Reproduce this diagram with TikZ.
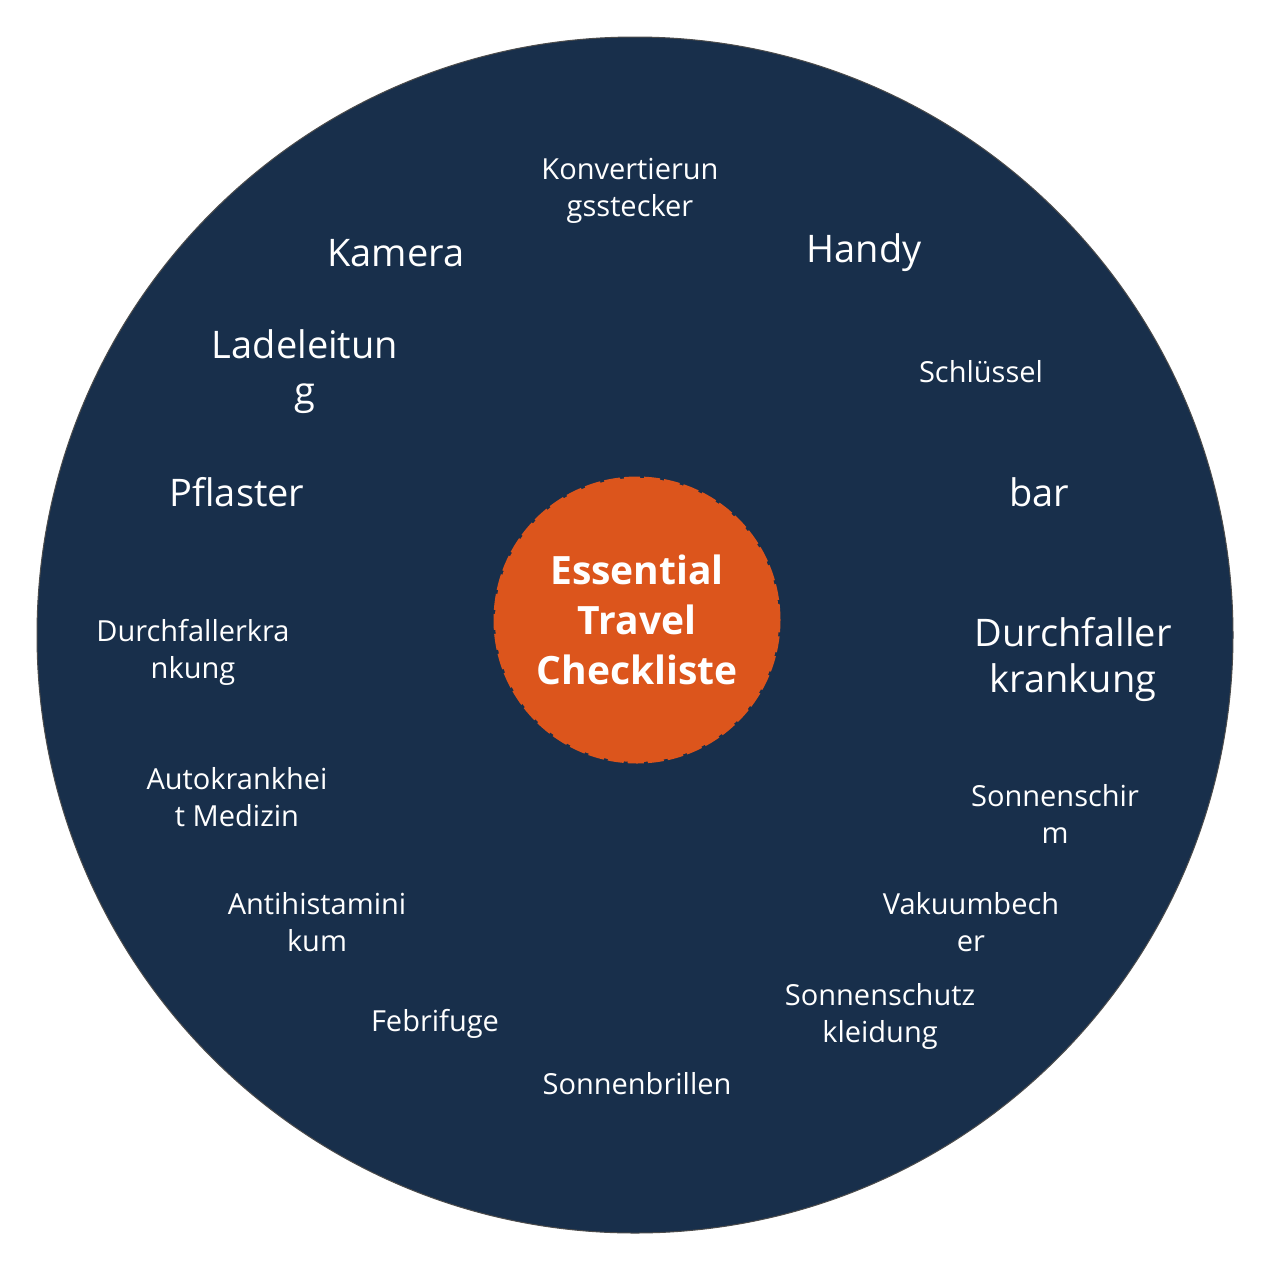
\documentclass[tikz,border=0pt]{standalone}
\usepackage{fontspec}
\setmainfont{Open Sans}
\definecolor{navy}{HTML}{182F4B}
\definecolor{orng}{HTML}{DC551C}
\begin{document}
\begin{tikzpicture}[x=1pt,y=-1pt,
  sm/.style={text=white,align=center,font=\fontsize{29}{37}\selectfont},
  lg/.style={text=white,align=center,font=\fontsize{38}{46}\selectfont}]
\useasboundingbox (0,0) rectangle (1270,1270);
\fill[white] (0,0) rectangle (1270,1270);
\node[circle,fill=navy,draw=black!70,line width=1pt,minimum size=1196pt,inner sep=0pt] (big) at (635,635) {};
\node[circle,fill=orng,draw=orng,line width=3pt,dash pattern=on 16pt off 4pt,minimum size=284pt,inner sep=0pt,text=white,align=center,font=\bfseries\fontsize{39}{50}\selectfont] (c) at (637,620) {Essential\\Travel\\Checkliste};
\node[sm] (a1) at (630,191) {Konvertierun\\gsstecker};
\node[lg] (a2) at (396,253) {Kamera};
\node[lg] (a3) at (864,253) {Handy};
\node[lg] (a4) at (305,372) {Ladeleitun\\g};
\node[sm] (a5) at (981,372) {Schlüssel};
\node[lg] (a6) at (237,492) {Pflaster};
\node[lg] (a7) at (1039,492) {bar};
\node[sm] (a8) at (193,652) {Durchfallerkra\\nkung};
\node[lg] (a9) at (1073,660) {Durchfaller\\krankung};
\node[sm] (a10) at (237,797) {Autokrankhei\\t Medizin};
\node[sm] (a11) at (1055,814) {Sonnenschir\\m};
\node[sm] (a12) at (317,922) {Antihistamini\\kum};
\node[sm] (a13) at (971,922) {Vakuumbech\\er};
\node[sm] (a14) at (435,1024) {Febrifuge};
\node[sm] (a15) at (880,1016) {Sonnenschutz\\kleidung};
\node[sm] (a16) at (637,1084) {Sonnenbrillen};
\end{tikzpicture}
\end{document}
